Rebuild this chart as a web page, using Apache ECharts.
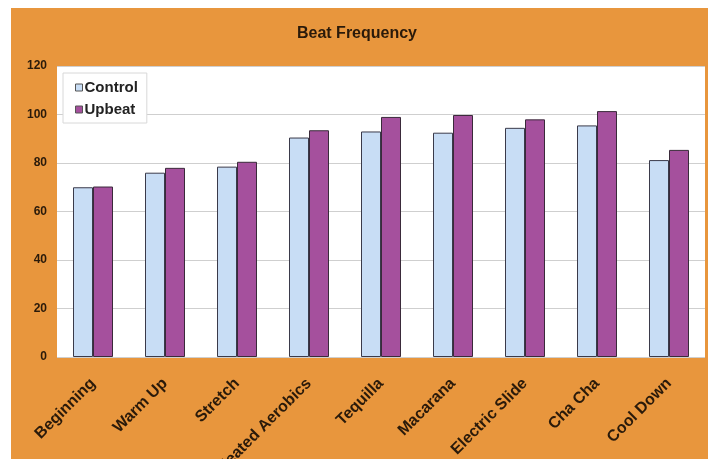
<!DOCTYPE html>
<html>
<head>
<meta charset="utf-8">
<script src="https://cdn.jsdelivr.net/npm/echarts@6/dist/echarts.min.js"></script>
<style>
  html, body { margin: 0; padding: 0; background: #fff; }
  #chart { width: 714px; height: 459px; }
</style>
</head>
<body>
<div id="chart"></div>
<script>
// 数据
var categories = ['Beginning', 'Warm Up', 'Stretch', 'Heated Aerobics', 'Tequilla', 'Macarana', 'Electric Slide', 'Cha Cha', 'Cool Down'];
var controlValues = [70, 76, 78.5, 90.5, 93, 92.5, 94.5, 95.5, 81.2];
var upbeatValues = [70.3, 78, 80.5, 93.5, 99, 99.8, 98, 101.4, 85.4];
var yTicks = [0, 20, 40, 60, 80, 100, 120];

var font = '"Liberation Sans", Arial, sans-serif';
var myChart = echarts.init(document.getElementById('chart'));

var options = {
  animation: false,
  backgroundColor: '#fff',
  graphic: [
    {
      type: 'rect',
      z: -10,
      shape: { x: 11, y: 8, width: 697, height: 460 },
      style: { fill: '#E8963D' }
    }
  ],
  title: {
    text: 'Beat Frequency',
    left: 'center',
    top: 21,
    textStyle: { fontFamily: font, fontSize: 16, fontWeight: 'bold', color: '#2a1a0a' }
  },
  grid: {
    left: 57,
    right: 9,
    top: 66,
    bottom: 102,
    containLabel: false,
    outerBoundsMode: 'none',
    show: true,
    backgroundColor: '#fff',
    borderWidth: 0
  },
  legend: {
    orient: 'vertical',
    left: 63,
    top: 73,
    padding: [7, 9, 6, 12],
    itemGap: 7,
    itemWidth: 7,
    itemHeight: 7,
    backgroundColor: '#fff',
    borderColor: '#d8d8d8',
    borderWidth: 1,
    icon: 'rect',
    textStyle: { fontFamily: font, fontSize: 15, fontWeight: 'bold', color: '#222', padding: [0, 0, 0, -3] },
    data: [
      { name: 'Control', itemStyle: { borderColor: '#555', borderWidth: 1 } },
      { name: 'Upbeat', itemStyle: { borderColor: '#555', borderWidth: 1 } }
    ]
  },
  xAxis: {
    type: 'category',
    data: categories,
    axisLine: { show: false },
    axisTick: { show: false },
    axisLabel: {
      interval: 0,
      rotate: 45,
      margin: 24,
      fontFamily: font,
      fontSize: 16,
      fontWeight: 'bold',
      color: '#2a1a0a'
    }
  },
  yAxis: {
    type: 'value',
    min: 0,
    max: 120,
    interval: 20,
    axisLine: { show: false },
    axisTick: { show: false },
    splitLine: { lineStyle: { color: '#cfcfcf' } },
    axisLabel: {
      margin: 10,
      fontFamily: font,
      fontSize: 12,
      fontWeight: 'bold',
      color: '#2a1a0a',
      formatter: function (v) { return yTicks.indexOf(v) >= 0 ? String(v) : ''; }
    }
  },
  series: [
    {
      name: 'Control',
      type: 'bar',
      data: controlValues,
      barWidth: 20,
      barGap: '0%',
      itemStyle: { color: '#C8DDF5', borderColor: '#3a3a4a', borderWidth: 1 }
    },
    {
      name: 'Upbeat',
      type: 'bar',
      data: upbeatValues,
      barWidth: 20,
      itemStyle: { color: '#A5509D', borderColor: '#3a2a3a', borderWidth: 1 }
    }
  ]
};

myChart.setOption(options);
</script>
</body>
</html>
